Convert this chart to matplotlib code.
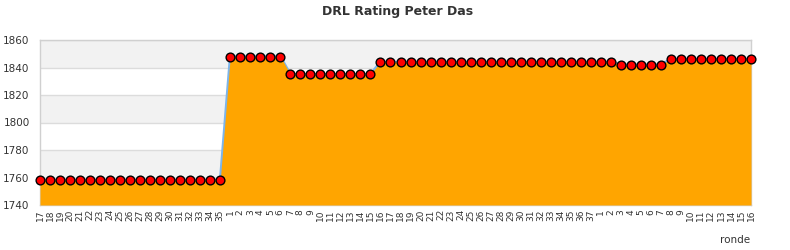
import matplotlib
matplotlib.use("Agg")
import matplotlib.pyplot as plt
import numpy as np

# rounds (labels on the x axis)
rondes = [str(r) for r in list(range(17, 36)) + list(range(1, 17))
          + list(range(17, 38)) + list(range(1, 17))]

rating = ([1758] * 19 + [1848] * 6 + [1835] * 9 + [1844] * 24
          + [1842] * 5 + [1846] * 9)

yticks = [1740, 1760, 1780, 1800, 1820, 1840, 1860]

fig = plt.figure(figsize=(7.9, 2.5), dpi=100)
ax = fig.add_axes([40 / 790, 45 / 250, 711 / 790, 165 / 250])

x = np.arange(len(rating))

# alternating bands
for i in range(len(yticks) - 1):
    if i % 2 == 1:
        ax.axhspan(yticks[i], yticks[i + 1], color="#f2f2f2", zorder=0, lw=0)
for t in yticks:
    ax.axhline(t, color="#dcdcdc", lw=1, zorder=1)

ax.plot(x, rating, color="#7cb5ec", lw=2, zorder=2)
ax.fill_between(x, rating, 1740, color="#ffa500", lw=0, zorder=3)
ax.plot(x, rating, ls="none", marker="o", ms=6.3, mfc="#ff0000",
        mec="black", mew=1, zorder=4, clip_on=False)

ax.set_xlim(0, len(rating) - 1)
ax.set_ylim(1740, 1860)
ax.set_yticks(yticks)
ax.set_yticklabels([str(t) for t in yticks], fontsize=7.5, color="#333333")
ax.set_xticks(x)
ax.set_xticklabels(rondes, rotation=90, fontsize=6.5, color="#333333")
ax.tick_params(length=0, pad=3)
ax.tick_params(axis="y", pad=7.5)

for s in ax.spines.values():
    s.set_color("#d0d0d0")
    s.set_linewidth(1)

fig.text(398 / 790, 1 - 12 / 250, "DRL Rating Peter Das", ha="center",
         va="center", fontsize=9, fontweight="bold", color="#333333")
fig.text(735 / 790, 1 - 240 / 250, "ronde", ha="center", va="center",
         fontsize=7.5, color="#333333")

fig.savefig("out.png", dpi=100)
